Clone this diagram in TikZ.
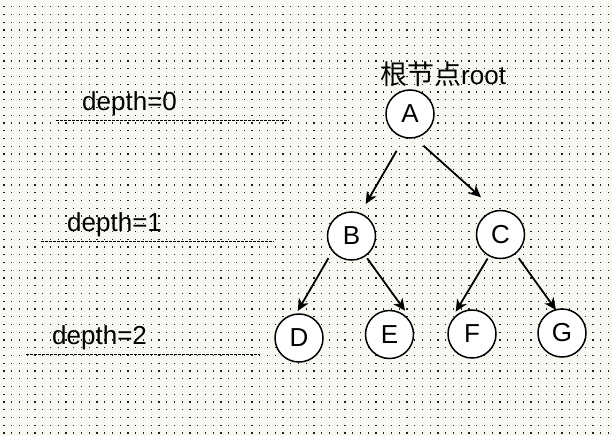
\documentclass[tikz,border=0pt]{standalone}
\usepackage{fontspec}
\setmainfont{Liberation Sans}
\newfontfamily\cjk{Noto Sans CJK SC}
\usetikzlibrary{arrows.meta}
\definecolor{bgpaper}{HTML}{F9F7F1}
\definecolor{dotcol}{HTML}{202020}
\tikzset{
  treenode/.style={circle,draw=black,fill=white,line width=1.5pt,minimum size=48pt,inner sep=0pt,font=\fontsize{26}{30}\selectfont},
  depthlabel/.style={anchor=base west,inner sep=0pt,font=\fontsize{26}{30}\selectfont},
  levelline/.style={line width=1pt,dash pattern=on 3pt off 1pt},
  treeedge/.style={line width=1.8pt,-{Stealth[length=12pt,width=11pt,inset=3.5pt]}}
}
\begin{document}
\begin{tikzpicture}[x=1pt,y=-1pt]
\useasboundingbox (0,0) rectangle (612,436);
\fill[bgpaper] (0,0) rectangle (612,436);
\foreach \i in {0,...,78}{
  \foreach \j in {0,...,55}{
    \fill[dotcol] ({4+7.75*\i-0.6},{6.7+7.75*\j-0.6}) rectangle ++(1.2,1.2);
  }
}
% level labels
\node[depthlabel] (d0) at (82,110) {depth=0};
\node[depthlabel] (d1) at (67,231.7) {depth=1};
\node[depthlabel] (d2) at (52,344) {depth=2};
\coordinate (l0a) at (56,120.7); \coordinate (l0b) at (289,120.7);
\coordinate (l1a) at (41,241.7); \coordinate (l1b) at (274,241.7);
\coordinate (l2a) at (26,354.3); \coordinate (l2b) at (260,354.3);
\draw[levelline] (l0a) -- (l0b);
\draw[levelline] (l1a) -- (l1b);
\draw[levelline] (l2a) -- (l2b);
% root label
\node[depthlabel] (rootlbl) at (380,84) {{\cjk\fontsize{27}{30}\selectfont 根节点}root};
% nodes
\node[treenode] (A) at (410,114) {A};
\node[treenode] (B) at (351.5,236) {B};
\node[treenode] (C) at (500.5,234.5) {C};
\node[treenode] (D) at (299,338) {D};
\node[treenode] (E) at (389.5,334.5) {E};
\node[treenode] (F) at (472,334) {F};
\node[treenode] (G) at (562,333) {G};
% arrow ends near the children
\coordinate (tB) at (365.7,204);
\coordinate (tC) at (481,197.3);
\coordinate (tD) at (297.7,311);
\coordinate (tE) at (405,310.7);
\coordinate (tF) at (455.7,311.7);
\coordinate (tG) at (556,310);
% edges
\draw[treeedge,shorten <=14.7pt] (A.-104.5) -- (tB);
\draw[treeedge,shorten <=11.2pt] (A.-78) -- (tC);
\draw[treeedge,shorten <=7.6pt] (B.-141) -- (tD);
\draw[treeedge,shorten <=2.5pt] (B.-55) -- (tE);
\draw[treeedge,shorten <=2.5pt] (C.-118.6) -- (tF);
\draw[treeedge,shorten <=5.2pt] (C.-52) -- (tG);
\end{tikzpicture}
\end{document}
